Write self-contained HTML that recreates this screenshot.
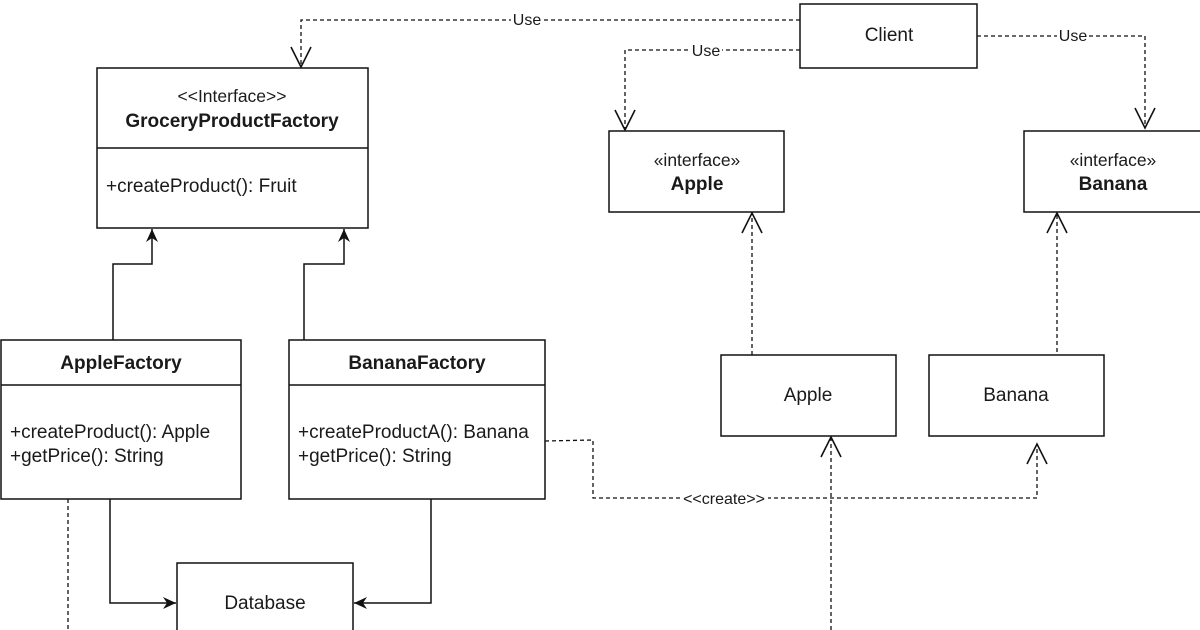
<!DOCTYPE html>
<html><head><meta charset="utf-8"><style>html,body{margin:0;padding:0;background:#fff}svg{display:block}</style></head>
<body>
<svg width="1200" height="630" viewBox="0 0 1200 630" xmlns="http://www.w3.org/2000/svg" font-family="Liberation Sans, Arial, sans-serif" font-size="19" fill="#1a1a1a">
<defs>
<marker id="open" markerWidth="30" markerHeight="30" refX="20" refY="12" orient="auto" markerUnits="userSpaceOnUse" overflow="visible"><path d="M0,2 L20,12 L0,22" fill="none" stroke="#111" stroke-width="1.6"/></marker>
<marker id="fill" markerWidth="20" markerHeight="20" refX="13" refY="7" orient="auto" markerUnits="userSpaceOnUse" overflow="visible"><path d="M0,1 L13,7 L0,13 L4,7 Z" fill="#111"/></marker>
</defs>
<g fill="#fff" stroke="#111" stroke-width="1.5">
<rect x="97" y="68" width="271" height="160"/>
<line x1="97" y1="148" x2="368" y2="148"/>
<rect x="800" y="4" width="177" height="64"/>
<rect x="609" y="131" width="175" height="81"/>
<rect x="1024" y="131" width="180" height="81"/>
<rect x="721" y="355" width="175" height="81"/>
<rect x="929" y="355" width="175" height="81"/>
<rect x="1" y="340" width="240" height="159"/>
<line x1="1" y1="385" x2="241" y2="385"/>
<rect x="289" y="340" width="256" height="159"/>
<line x1="289" y1="385" x2="545" y2="385"/>
<rect x="177" y="563" width="176" height="80"/>
</g>
<g fill="none" stroke="#111" stroke-width="1.3" stroke-dasharray="4,3">
<path d="M800,20 H301 V67" marker-end="url(#open)"/>
<path d="M800,50 H625 V130" marker-end="url(#open)"/>
<path d="M977,36 H1145 V128" marker-end="url(#open)"/>
<path d="M752,355 V213" marker-end="url(#open)"/>
<path d="M1057,352 V213" marker-end="url(#open)"/>
<path d="M545,441 L593,440 V498 H1037 V444" marker-end="url(#open)"/>
<path d="M831,630 V437" marker-end="url(#open)"/>
<path d="M68,499 V630"/>
</g>
<g fill="none" stroke="#111" stroke-width="1.5">
<path d="M113,340 V264 H152 V229" marker-end="url(#fill)"/>
<path d="M304,340 V264 H344 V229" marker-end="url(#fill)"/>
<path d="M110,499 V603 H176" marker-end="url(#fill)"/>
<path d="M431,499 V603 H354" marker-end="url(#fill)"/>
</g>
<g font-size="16" text-anchor="middle">
<rect x="511" y="11" width="32" height="18" fill="#fff"/><text x="527" y="25">Use</text>
<rect x="690" y="42" width="32" height="18" fill="#fff"/><text x="706" y="56">Use</text>
<rect x="1057" y="27" width="32" height="18" fill="#fff"/><text x="1073" y="41">Use</text>
<rect x="680" y="489" width="88" height="18" fill="#fff"/><text x="724" y="504">&lt;&lt;create&gt;&gt;</text>
</g>
<g text-anchor="middle">
<text x="232" y="102" font-size="17.5">&lt;&lt;Interface&gt;&gt;</text>
<text x="232" y="127" font-weight="bold">GroceryProductFactory</text>
<text x="889" y="41">Client</text>
<text x="697" y="166" font-size="17.5">«interface»</text>
<text x="697" y="190" font-weight="bold">Apple</text>
<text x="1113" y="166" font-size="17.5">«interface»</text>
<text x="1113" y="190" font-weight="bold">Banana</text>
<text x="808" y="401">Apple</text>
<text x="1016" y="401">Banana</text>
<text x="121" y="369" font-weight="bold">AppleFactory</text>
<text x="417" y="369" font-weight="bold">BananaFactory</text>
<text x="265" y="609">Database</text>
</g>
<text x="106" y="192">+createProduct(): Fruit</text>
<text x="10" y="438">+createProduct(): Apple</text>
<text x="10" y="462">+getPrice(): String</text>
<text x="298" y="438">+createProductA(): Banana</text>
<text x="298" y="462">+getPrice(): String</text>
</svg>
</body></html>
